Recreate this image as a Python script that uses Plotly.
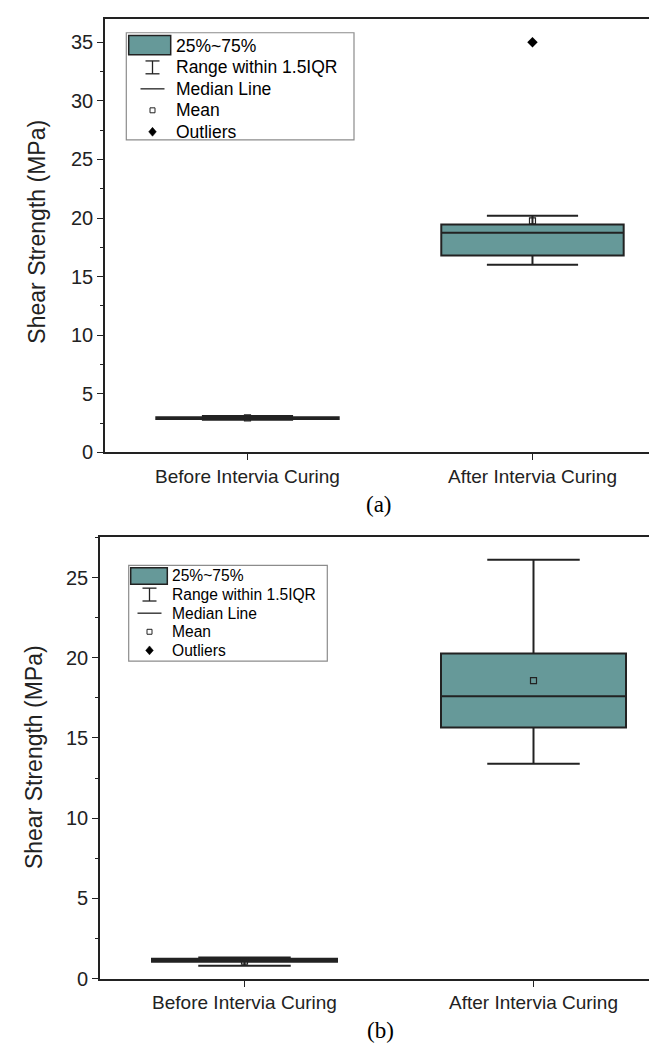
import plotly.graph_objects as go

# ---------------- data ----------------
categories = ["Before Intervia Curing", "After Intervia Curing"]

# panel (a)
a_lower = [2.78, 16.0]
a_q1 = [2.85, 16.8]
a_median = [2.93, 18.75]
a_q3 = [3.0, 19.45]
a_upper = [3.1, 20.2]
a_mean = [2.93, 19.75]
a_outlier_cat = ["After Intervia Curing"]
a_outlier_val = [35.0]

# panel (b)
b_lower = [0.8, 13.4]
b_q1 = [1.05, 15.65]
b_median = [1.15, 17.6]
b_q3 = [1.25, 20.27]
b_upper = [1.32, 26.1]
b_mean = [1.1, 18.58]

legend_labels = ["25%~75%", "Range within 1.5IQR", "Median Line", "Mean", "Outliers"]
y_title = "Shear Strength (MPa)"
panel_labels = ["(a)", "(b)"]

# ---------------- style ----------------
W, H = 657, 1048
TEAL = "#669999"
DARK = "#222222"
SANS = "Liberation Sans, Arial, sans-serif"
SERIF = "Liberation Serif, Times New Roman, serif"


def px(x):
    return x / W


def py(y):
    return 1 - y / H


fig = go.Figure()


def add_panel(xa, ya, lower, q1, med, q3, upper, mean):
    fig.add_trace(go.Box(
        x=categories, q1=q1, median=med, q3=q3,
        lowerfence=lower, upperfence=upper,
        xaxis=xa, yaxis=ya,
        fillcolor=TEAL, line=dict(color=DARK, width=2),
        width=0.64, whiskerwidth=0.5, boxpoints=False,
        showlegend=False, hoverinfo="skip",
    ))
    fig.add_trace(go.Scatter(
        x=categories, y=mean, mode="markers", xaxis=xa, yaxis=ya,
        marker=dict(symbol="square-open", size=6, color=DARK,
                    line=dict(width=1.2, color=DARK)),
        showlegend=False, hoverinfo="skip",
    ))


add_panel("x", "y", a_lower, a_q1, a_median, a_q3, a_upper, a_mean)
fig.add_trace(go.Scatter(
    x=a_outlier_cat, y=a_outlier_val, mode="markers", xaxis="x", yaxis="y",
    marker=dict(symbol="diamond", size=8, color="black"),
    showlegend=False, hoverinfo="skip",
))
add_panel("x2", "y2", b_lower, b_q1, b_median, b_q3, b_upper, b_mean)

shapes = []
annotations = []


def draw_legend(bx0, by0, bx1, by1, sw, row0, dy, textx, symx, fs):
    shapes.append(dict(type="rect", xref="paper", yref="paper",
                       x0=px(bx0), x1=px(bx1), y0=py(by0), y1=py(by1),
                       line=dict(color="#8c8c8c", width=1.2), fillcolor="white"))
    # swatch
    shapes.append(dict(type="rect", xref="paper", yref="paper",
                       x0=px(sw[0]), x1=px(sw[1]), y0=py(sw[2]), y1=py(sw[3]),
                       line=dict(color=DARK, width=1.5), fillcolor=TEAL))
    ys = [row0 + dy * i for i in range(5)]
    # I-beam
    yc = ys[1]
    for (x0, y0, x1, y1) in [(symx, yc - 6.5, symx, yc + 6.5),
                             (symx - 7, yc - 6.5, symx + 7, yc - 6.5),
                             (symx - 7, yc + 6.5, symx + 7, yc + 6.5)]:
        shapes.append(dict(type="line", xref="paper", yref="paper",
                           x0=px(x0), x1=px(x1), y0=py(y0), y1=py(y1),
                           line=dict(color=DARK, width=1.3)))
    # median line
    shapes.append(dict(type="line", xref="paper", yref="paper",
                       x0=px(symx - 12), x1=px(symx + 12), y0=py(ys[2]), y1=py(ys[2]),
                       line=dict(color=DARK, width=1.3)))
    # mean square
    shapes.append(dict(type="rect", xref="paper", yref="paper",
                       x0=px(symx - 2.5), x1=px(symx + 2.5), y0=py(ys[3] - 2.5), y1=py(ys[3] + 2.5),
                       line=dict(color=DARK, width=1), fillcolor="white"))
    # outlier diamond
    d = 4.5
    yo = ys[4]
    path = (f"M {px(symx)} {py(yo - d)} L {px(symx + d * 0.85)} {py(yo)} "
            f"L {px(symx)} {py(yo + d)} L {px(symx - d * 0.85)} {py(yo)} Z")
    shapes.append(dict(type="path", xref="paper", yref="paper", path=path,
                       fillcolor="black", line=dict(color="black", width=0.5)))
    for lab, y in zip(legend_labels, ys):
        annotations.append(dict(text=lab, xref="paper", yref="paper",
                                x=px(textx), y=py(y), xanchor="left", yanchor="middle",
                                showarrow=False, font=dict(family=SANS, size=fs, color="black")))


draw_legend(118.3, 25, 346, 133.3, (120.7, 162.7, 27.7, 47.3), 38.3, 21.7, 166, 144.5, 17.5)
draw_legend(120.7, 563.3, 319.3, 660, (122.7, 159.3, 565.7, 582.3), 574, 18.8, 162, 141.5, 15.6)

# y titles
annotations.append(dict(text=y_title, xref="paper", yref="paper", x=px(29), y=py(226),
                        textangle=-90, showarrow=False, xanchor="center", yanchor="middle",
                        font=dict(family=SANS, size=23, color=DARK)))
annotations.append(dict(text=y_title, xref="paper", yref="paper", x=px(26), y=py(757),
                        textangle=-90, showarrow=False, xanchor="center", yanchor="middle",
                        font=dict(family=SANS, size=23, color=DARK)))
# panel labels
annotations.append(dict(text=panel_labels[0], xref="paper", yref="paper", x=px(371), y=py(502),
                        showarrow=False, xanchor="center", yanchor="middle",
                        font=dict(family=SERIF, size=23, color="black")))
annotations.append(dict(text=panel_labels[1], xref="paper", yref="paper", x=px(372), y=py(1033),
                        showarrow=False, xanchor="center", yanchor="middle",
                        font=dict(family=SERIF, size=23, color="black")))

xcommon = dict(type="category", showline=True, linecolor=DARK, linewidth=1.6, mirror=True,
               ticks="outside", ticklen=6, tickwidth=1.3, tickcolor=DARK,
               showgrid=False, zeroline=False,
               tickfont=dict(family=SANS, size=19, color=DARK))
ycommon = dict(showline=True, linecolor=DARK, linewidth=1.6, mirror=False,
               ticks="outside", ticklen=6, tickwidth=1.3, tickcolor=DARK,
               dtick=5, tick0=0, showgrid=False, zeroline=False,
               minor=dict(ticks="outside", ticklen=3.5, dtick=2.5, tickcolor=DARK, tickwidth=1.2),
               tickfont=dict(family=SANS, size=20, color=DARK))

fig.update_layout(
    width=W, height=H,
    margin=dict(l=0, r=0, t=0, b=0),
    paper_bgcolor="white", plot_bgcolor="white",
    showlegend=False,
    xaxis=dict(domain=[px(97), 1], range=[-0.5, 1.465], anchor="y", **xcommon),
    yaxis=dict(domain=[py(449), py(11)], range=[0, 37], anchor="x", **ycommon),
    xaxis2=dict(domain=[px(92), 1], range=[-0.5, 1.455], anchor="y2", **xcommon),
    yaxis2=dict(domain=[py(981), py(535)], range=[0, 27.5], anchor="x2", **ycommon),
    shapes=shapes,
    annotations=annotations,
)

fig.write_html("out.html")
